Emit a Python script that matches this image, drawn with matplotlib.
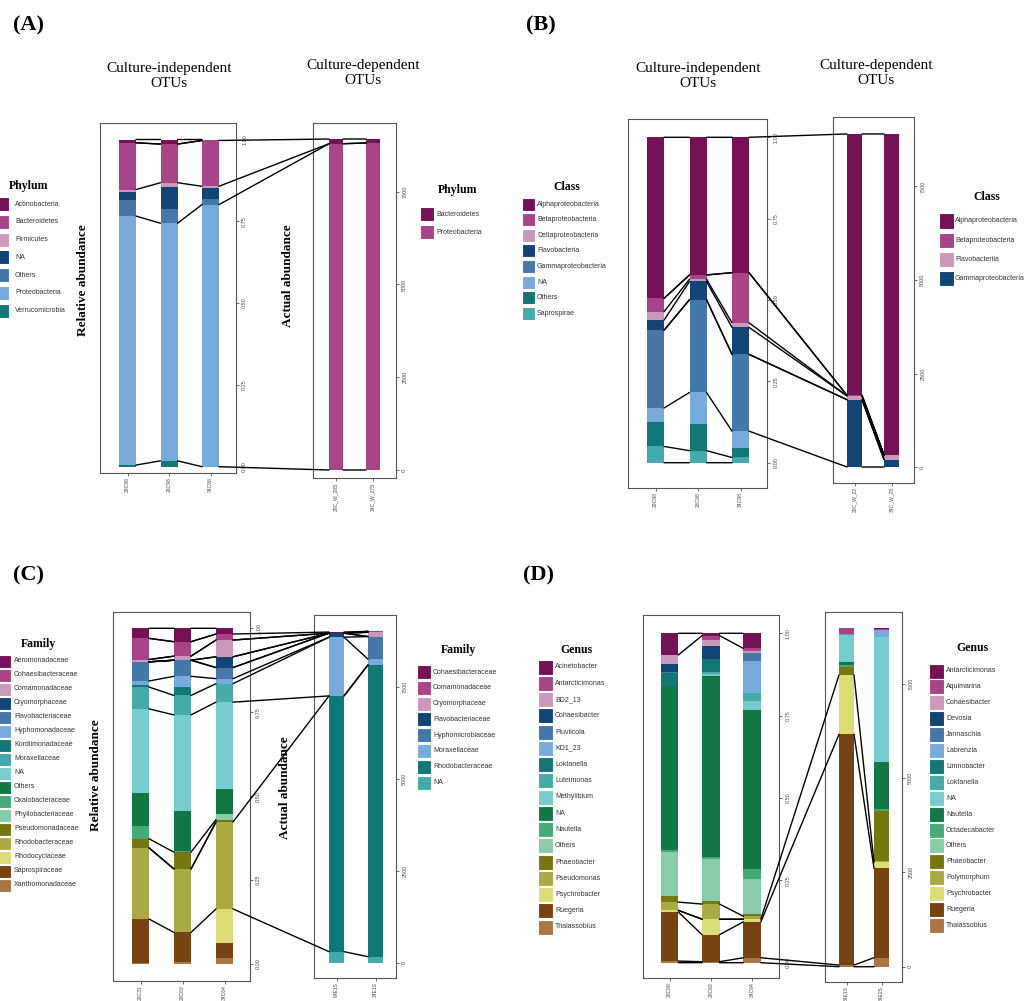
import numpy as np
import matplotlib.pyplot as plt
from matplotlib.patches import Rectangle, ConnectionPatch

W, H = 1036, 1001
SERIF = "Liberation Serif"
SANS = "Liberation Sans"

palette = ["#771155", "#AA4488", "#CC99BB", "#114477", "#4477AA", "#77AADD",
           "#117777", "#44AAAA", "#77CCCC", "#117744", "#44AA77", "#88CCAA",
           "#777711", "#AAAA44", "#DDDD77", "#774411", "#AA7744"]

# ---- (A) phylum ----
phylum_ind = ["Actinobacteria", "Bacteroidetes", "Firmicutes", "NA", "Others",
              "Proteobacteria", "Verrucomicrobia"]
phylum_ind_samples = ["29C98", "28C98", "34C98"]
phylum_ind_values = [
    [0.010, 0.014, 0.003],
    [0.143, 0.118, 0.140],
    [0.007, 0.012, 0.006],
    [0.025, 0.068, 0.032],
    [0.049, 0.044, 0.018],
    [0.761, 0.726, 0.801],
    [0.005, 0.018, 0.000],
]
phylum_dep = ["Bacteroidetes", "Proteobacteria"]
phylum_dep_samples = ["29C_W_28S", "34C_W_27S"]
phylum_dep_values = [
    [126, 108],
    [8790, 8810],
]
phylum_links = [("Actinobacteria", None), ("Bacteroidetes", "Bacteroidetes"),
                ("Proteobacteria", "Proteobacteria")]

# ---- (B) class ----
class_ind = ["Alphaproteobacteria", "Betaproteobacteria", "Deltaproteobacteria",
             "Flavobacteria", "Gammaproteobacteria", "NA", "Others", "Saprospirae"]
class_ind_samples = ["29C98", "28C98", "34C98"]
class_ind_values = [
    [0.495, 0.423, 0.416],
    [0.041, 0.013, 0.154],
    [0.026, 0.007, 0.014],
    [0.031, 0.056, 0.083],
    [0.239, 0.285, 0.236],
    [0.043, 0.097, 0.051],
    [0.075, 0.082, 0.030],
    [0.050, 0.037, 0.016],
]
class_dep = ["Alphaproteobacteria", "Betaproteobacteria", "Flavobacteriia",
             "Gammaproteobacteria"]
class_dep_samples = ["29C_W_22", "34C_W_28"]
class_dep_values = [
    [6990, 8580],
    [15, 10],
    [100, 115],
    [1800, 200],
]
class_links = [("Alphaproteobacteria", "Alphaproteobacteria"),
               ("Betaproteobacteria", "Betaproteobacteria"),
               ("Flavobacteria", "Flavobacteriia"),
               ("Gammaproteobacteria", "Gammaproteobacteria"),
               ("Saprospirae", None)]

# ---- (C) family ----
family_ind = ["Aeromonadaceae", "Cohaesibacteraceae", "Comamonadaceae",
              "Cryomorphaceae", "Flavobacteriaceae", "Hyphomonadaceae",
              "Kordiimonadaceae", "Moraxellaceae", "NA", "Others",
              "Oxalobacteraceae", "Phyllobacteriaceae", "Pseudomonadaceae",
              "Rhodobacteraceae", "Rhodocyclaceae", "Saprospiraceae",
              "Xanthomonadaceae"]
family_ind_samples = ["28C31", "28C63", "34C64"]
family_ind_values = [
    [0.030, 0.040, 0.017],
    [0.063, 0.043, 0.018],
    [0.007, 0.012, 0.050],
    [0.000, 0.000, 0.032],
    [0.057, 0.048, 0.033],
    [0.013, 0.032, 0.015],
    [0.005, 0.025, 0.000],
    [0.065, 0.058, 0.055],
    [0.251, 0.287, 0.258],
    [0.099, 0.117, 0.076],
    [0.037, 0.005, 0.000],
    [0.000, 0.000, 0.016],
    [0.027, 0.050, 0.007],
    [0.212, 0.189, 0.259],
    [0.000, 0.000, 0.102],
    [0.130, 0.087, 0.043],
    [0.004, 0.007, 0.019],
]
family_dep = ["Cohaesibacteraceae", "Comamonadaceae", "Cryomorphaceae",
              "Flavobacteriaceae", "Hyphomicrobiaceae", "Moraxellaceae",
              "Rhodobacteraceae", "NA"]
family_dep_samples = ["64E1S", "34E1S"]
family_dep_values = [
    [30, 0],
    [0, 25],
    [0, 115],
    [110, 0],
    [0, 616],
    [1595, 154],
    [6950, 7930],
    [300, 163],
]
family_links = [("Aeromonadaceae", None),
                ("Cohaesibacteraceae", "Cohaesibacteraceae"),
                ("Comamonadaceae", "Comamonadaceae"),
                ("Cryomorphaceae", "Cryomorphaceae"),
                ("Flavobacteriaceae", "Flavobacteriaceae"),
                ("Moraxellaceae", "Moraxellaceae"),
                ("Pseudomonadaceae", None),
                ("Rhodobacteraceae", "Rhodobacteraceae")]

# ---- (D) genus ----
genus_ind = ["Acinetobacter", "Antarcticimonas", "BD2_13", "Cohaesibacter",
             "Fluviicola", "KD1_23", "Loktanella", "Luteimonas", "Methylibium",
             "NA", "Nautella", "Others", "Phaeobacter", "Pseudomonas",
             "Psychrobacter", "Ruegeria", "Thalassobius"]
genus_ind_samples = ["28C08", "28C63", "34C64"]
genus_ind_values = [
    [0.066, 0.007, 0.046],
    [0.000, 0.013, 0.007],
    [0.028, 0.020, 0.006],
    [0.022, 0.037, 0.000],
    [0.005, 0.000, 0.024],
    [0.000, 0.000, 0.099],
    [0.038, 0.041, 0.000],
    [0.000, 0.007, 0.025],
    [0.000, 0.005, 0.027],
    [0.498, 0.548, 0.481],
    [0.007, 0.008, 0.030],
    [0.133, 0.126, 0.106],
    [0.019, 0.010, 0.008],
    [0.025, 0.046, 0.009],
    [0.005, 0.047, 0.008],
    [0.149, 0.082, 0.109],
    [0.005, 0.003, 0.015],
]
genus_dep = ["Antarcticimonas", "Aquimarina", "Cohaesibacter", "Devosia",
             "Jannaschia", "Labrenzia", "Limnobacter", "Loktanella", "NA",
             "Nautella", "Octadecabacter", "Others", "Phaeobacter",
             "Polymorphum", "Psychrobacter", "Ruegeria", "Thalassobius"]
genus_dep_samples = ["64E1S", "64E2S"]
genus_dep_values = [
    [0, 26],
    [150, 18],
    [0, 0],
    [0, 5],
    [0, 0],
    [0, 177],
    [0, 0],
    [26, 0],
    [706, 3311],
    [88, 1254],
    [62, 44],
    [0, 0],
    [203, 1325],
    [0, 44],
    [1572, 159],
    [6110, 2366],
    [44, 238],
]
genus_links = [("Acinetobacter", None), ("Pseudomonas", None),
               ("Psychrobacter", "Psychrobacter"),
               ("Thalassobius", "Thalassobius")]

fig = plt.figure(figsize=(W / 100, H / 100), dpi=100)


def px_axes(box):
    l, t, r, b = box
    return fig.add_axes([l / W, 1 - b / H, (r - l) / W, (b - t) / H])


def fig_text(x, y, s, **kw):
    fig.text(x / W, 1 - y / H, s, **kw)


def stack_bounds(values):
    v = np.asarray(values, dtype=float)
    tops = v[::-1].cumsum(axis=0)[::-1]
    return tops - v, tops


def stacked_axes(box, c1, step, bw, y0, ppu, names, values, samples, ticks, ticklabels):
    ax = px_axes(box)
    l, t, r, b = box
    n = len(samples)
    x = np.arange(1, n + 1)
    width = bw / step
    bottoms, tops = stack_bounds(values)
    for i, name in enumerate(names):
        ax.bar(x, np.asarray(values[i], float), bottom=bottoms[i], width=width,
               color=palette[i], linewidth=0)
    ax.set_xlim(1 - (c1 - l) / step, 1 + (r - c1) / step)
    ax.set_ylim(-(b - y0) / ppu, (y0 - t) / ppu)
    ax.yaxis.tick_right()
    ax.set_yticks(ticks)
    ax.set_yticklabels(ticklabels, rotation=90, va="center", fontsize=4,
                       color="#4D4D4D", family=SANS)
    ax.set_xticks(x)
    ax.set_xticklabels(samples, rotation=90, fontsize=3.6, color="#4D4D4D", family=SANS)
    ax.tick_params(axis="y", length=2.5, width=0.5, color="#333333", pad=2)
    ax.tick_params(axis="x", length=2, width=0.5, color="#333333", pad=1.2)
    for sp in ax.spines.values():
        sp.set_color("#555555")
        sp.set_linewidth(0.8)
    return ax, dict(zip(names, zip(bottoms, tops))), width


def legend(title, names, title_xy, sq_x, sq, y_first, step, text_x):
    fig_text(*title_xy, title, ha="center", va="center", family=SERIF,
             fontweight="bold", fontsize=8.5)
    for i, name in enumerate(names):
        yc = y_first + i * step
        fig.patches.append(Rectangle((sq_x / W, 1 - (yc + sq / 2) / H), sq / W, sq / H,
                                     transform=fig.transFigure, facecolor=palette[i],
                                     edgecolor="white", linewidth=0.8))
        fig_text(text_x, yc, name, ha="left", va="center", family=SANS,
                 fontsize=5, color="#333333")


def link(axA, xa, ya, axB, xb, yb):
    con = ConnectionPatch(xyA=(xa, ya), coordsA="data", axesA=axA,
                          xyB=(xb, yb), coordsB="data", axesB=axB,
                          color="black", linewidth=1.0)
    fig.add_artist(con)


def panel(lay, ind_names, ind_values, ind_samples, dep_names, dep_values,
          dep_samples, links, title):
    axL, bL, wL = stacked_axes(lay["left_box"], *lay["left_bars"], ind_names,
                               ind_values, ind_samples, [0, 0.25, 0.5, 0.75, 1.0],
                               ["0.00", "0.25", "0.50", "0.75", "1.00"])
    axR, bR, wR = stacked_axes(lay["right_box"], *lay["right_bars"], dep_names,
                               dep_values, dep_samples, [0, 2500, 5000, 7500],
                               ["0", "2500", "5000", "7500"])
    nL = len(ind_samples)
    # join the upper and lower edge of each linked taxon from bar to bar
    for left_name, right_name in links:
        for k in (0, 1):
            yl = bL[left_name][k]
            for j in range(nL - 1):
                link(axL, j + 1 + wL / 2, yl[j], axL, j + 2 - wL / 2, yl[j + 1])
            if right_name is None:
                continue
            yr = bR[right_name][k]
            link(axL, nL + wL / 2, yl[-1], axR, 1 - wR / 2, yr[0])
            link(axR, 1 + wR / 2, yr[0], axR, 2 - wR / 2, yr[1])
    legend(title, ind_names, *lay["left_legend"])
    legend(title, dep_names, *lay["right_legend"])
    fig_text(*lay["letter"], lay["tag"], ha="center", va="center", family=SERIF,
             fontweight="bold", fontsize=16)
    if "title_ind" in lay:
        fig_text(*lay["title_ind"], "Culture-independent\nOTUs", ha="center",
                 va="center", family=SERIF, fontsize=11, linespacing=1.2)
        fig_text(*lay["title_dep"], "Culture-dependent\nOTUs", ha="center",
                 va="center", family=SERIF, fontsize=11, linespacing=1.2)
    if "ylab_rel" in lay:
        fig_text(*lay["ylab_rel"], "Relative abundance", rotation=90, ha="center",
                 va="center", family=SERIF, fontweight="bold", fontsize=9.5)
        fig_text(*lay["ylab_act"], "Actual abundance", rotation=90, ha="center",
                 va="center", family=SERIF, fontweight="bold", fontsize=9.5, zorder=0)


layout_a = dict(tag="(A)", letter=(28, 25), title_ind=(169, 76), title_dep=(363, 73),
                left_box=(100, 123, 236, 473), left_bars=(127.5, 41.5, 17, 466.7, 327.2),
                right_box=(313, 123, 396, 478), right_bars=(336, 37, 14, 470, 92.8 / 2500),
                left_legend=((29, 186), -5, 14, 204, 17.8, 15),
                right_legend=((458, 190), 420, 14, 214, 18, 436),
                ylab_rel=(83, 280), ylab_act=(288, 276))
layout_b = dict(tag="(B)", letter=(541, 25), title_ind=(698, 76), title_dep=(876, 73),
                left_box=(628, 119, 767, 488), left_bars=(655.5, 42.5, 17, 462.7, 325.4),
                right_box=(833, 117, 914, 483), right_bars=(854.5, 37, 15, 467, 93.5 / 2500),
                left_legend=((567, 187), 522, 13, 204, 15.6, 537),
                right_legend=((987, 197), 939, 15, 221, 19.3, 955))
layout_c = dict(tag="(C)", letter=(28, 575),
                left_box=(113, 612, 250, 981), left_bars=(140.5, 42, 17, 964, 335.7),
                right_box=(314, 615, 396, 978), right_bars=(336.5, 39, 15, 962.7, 92 / 2500),
                left_legend=((38, 644), -2, 13, 661, 14, 14),
                right_legend=((458, 650), 417, 14, 672, 15.8, 433),
                ylab_rel=(96, 775), ylab_act=(285, 788))
layout_d = dict(tag="(D)", letter=(538, 575),
                left_box=(643, 615, 779, 978), left_bars=(669.5, 41.3, 17.5, 962.7, 329.4),
                right_box=(825, 612, 902, 982), right_bars=(846.5, 35, 15, 966.7, 94.4 / 2500),
                left_legend=((576, 650), 538, 15, 667, 16.25, 555),
                right_legend=((972, 648), 929, 15, 671, 15.9, 946))

panel(layout_a, phylum_ind, phylum_ind_values, phylum_ind_samples,
      phylum_dep, phylum_dep_values, phylum_dep_samples, phylum_links, "Phylum")
panel(layout_b, class_ind, class_ind_values, class_ind_samples,
      class_dep, class_dep_values, class_dep_samples, class_links, "Class")
panel(layout_c, family_ind, family_ind_values, family_ind_samples,
      family_dep, family_dep_values, family_dep_samples, family_links, "Family")
panel(layout_d, genus_ind, genus_ind_values, genus_ind_samples,
      genus_dep, genus_dep_values, genus_dep_samples, genus_links, "Genus")

fig.savefig("out.png", dpi=100)
